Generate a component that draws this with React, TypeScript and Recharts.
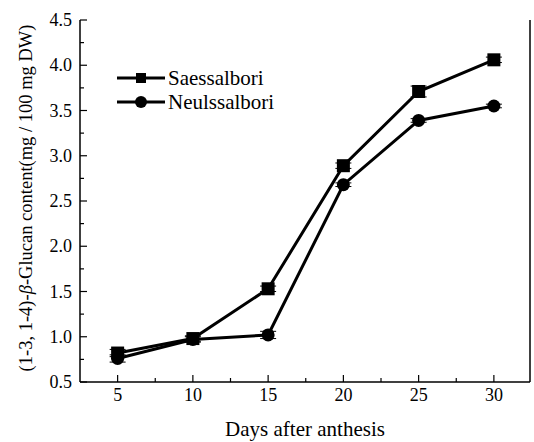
import { ErrorBar, Line, LineChart, XAxis, YAxis } from "recharts";

const days = [5, 10, 15, 20, 25, 30];
const saessalbori = [0.82, 0.98, 1.53, 2.89, 3.71, 4.06];
const neulssalbori = [0.76, 0.97, 1.02, 2.68, 3.39, 3.55];
const saessErr = [0.04, 0.03, 0.03, 0.03, 0.06, 0.03];
const neulsErr = [0.04, 0.03, 0.04, 0.02, 0.02, 0.02];

const xTicks = [5, 7.5, 10, 12.5, 15, 17.5, 20, 22.5, 25, 27.5, 30];
const yTicks = [0.5, 0.75, 1, 1.25, 1.5, 1.75, 2, 2.25, 2.5, 2.75, 3, 3.25, 3.5, 3.75, 4, 4.25, 4.5];
const seriesNames = ["Saessalbori", "Neulssalbori"];

const data = days.map((d, i) => ({
  day: d,
  saess: saessalbori[i],
  neuls: neulssalbori[i],
  saessErr: saessErr[i],
  neulsErr: neulsErr[i],
}));

const FONT = "'Liberation Serif', 'Times New Roman', serif";
const X_MARGIN = 5;
const Y_MARGIN = 8;

const XTick = (props: any) => {
  const { x, y, payload } = props;
  const v = payload.value as number;
  const major = v % 5 === 0;
  const axisY = y - X_MARGIN;
  return (
    <g>
      <line x1={x} x2={x} y1={axisY} y2={axisY - (major ? 7 : 4)} stroke="#000" strokeWidth={1.2} />
      {major && (
        <text x={x} y={y} dy={14} textAnchor="middle" fill="#000" fontSize={18} fontFamily={FONT}>
          {v}
        </text>
      )}
    </g>
  );
};

const YTick = (props: any) => {
  const { x, y, payload } = props;
  const v = payload.value as number;
  const major = Math.abs(v * 2 - Math.round(v * 2)) < 1e-6;
  const axisX = x + Y_MARGIN;
  return (
    <g>
      <line x1={axisX} x2={axisX + (major ? 7 : 4)} y1={y} y2={y} stroke="#000" strokeWidth={1.2} />
      {major && (
        <text x={x} y={y} dy={6} textAnchor="end" fill="#000" fontSize={18} fontFamily={FONT}>
          {v.toFixed(1)}
        </text>
      )}
    </g>
  );
};

const Square = (props: any) => {
  const { cx, cy, index } = props;
  if (cx == null || cy == null) return <g key={`s-${index}`} />;
  return <rect key={`s-${index}`} x={cx - 6.5} y={cy - 6.5} width={13} height={13} fill="#000" />;
};

const Circle = (props: any) => {
  const { cx, cy, index } = props;
  if (cx == null || cy == null) return <g key={`c-${index}`} />;
  return <circle key={`c-${index}`} cx={cx} cy={cy} r={6.5} fill="#000" />;
};

const ChartLegend = () => (
  <div
    style={{
      position: "absolute",
      left: 117,
      top: 66,
      fontFamily: FONT,
      fontSize: 21,
      color: "#000",
      lineHeight: "24px",
    }}
  >
    {seriesNames.map((name, i) => (
      <div key={name} style={{ display: "flex", alignItems: "center" }}>
        <svg width={48} height={24} style={{ marginRight: 3 }}>
          <line x1={0} x2={48} y1={12} y2={12} stroke="#000" strokeWidth={3} />
          {i === 0 ? <rect x={19} y={7} width={10} height={10} fill="#000" /> : <circle cx={24} cy={12} r={6} fill="#000" />}
        </svg>
        <span>{name}</span>
      </div>
    ))}
  </div>
);

const YLabel = (props: any) => {
  const { viewBox } = props;
  const cx = 26;
  const cy = viewBox.y + viewBox.height / 2 - 3;
  return (
    <text
      x={cx}
      y={cy}
      transform={`rotate(-90 ${cx} ${cy})`}
      textAnchor="middle"
      dominantBaseline="central"
      fontSize={18.5}
      fontFamily={FONT}
      fill="#000"
    >
      (1-3, 1-4)-<tspan fontStyle="italic">β</tspan>-Glucan content(mg / 100 mg DW)
    </text>
  );
};

export default function App() {
  return (
    <div style={{ position: "absolute", left: 0, top: 0, width: 534, height: 442, background: "#fff" }}>
      <LineChart width={534} height={442} data={data} margin={{ top: 20, right: 3, bottom: 0, left: 0 }}>
        <XAxis
          dataKey="day"
          type="number"
          domain={[2.5, 32.4]}
          ticks={xTicks}
          interval={0}
          tick={<XTick />}
          tickLine={false}
          tickSize={0}
          tickMargin={X_MARGIN}
          axisLine={{ stroke: "#000", strokeWidth: 1.5 }}
          height={60}
          label={{
            value: "Days after anthesis",
            position: "insideBottom",
            offset: 6,
            fill: "#000",
            fontSize: 21,
            fontFamily: FONT,
          }}
        />
        <XAxis
          xAxisId="top"
          orientation="top"
          dataKey="day"
          type="number"
          domain={[2.5, 32.4]}
          tick={false}
          tickLine={false}
          height={0}
          axisLine={{ stroke: "#000", strokeWidth: 1.5 }}
        />
        <YAxis
          type="number"
          domain={[0.5, 4.5]}
          ticks={yTicks}
          interval={0}
          tick={<YTick />}
          tickLine={false}
          tickSize={0}
          tickMargin={Y_MARGIN}
          axisLine={{ stroke: "#000", strokeWidth: 1.5 }}
          width={80}
          label={<YLabel />}
        />
        <YAxis
          yAxisId="right"
          orientation="right"
          type="number"
          domain={[0.5, 4.5]}
          tick={false}
          tickLine={false}
          width={1}
          axisLine={{ stroke: "#000", strokeWidth: 1.5 }}
        />
        <Line
          dataKey="saess"
          name={seriesNames[0]}
          stroke="#000"
          strokeWidth={3}
          dot={<Square />}
          activeDot={false}
          isAnimationActive={false}
        >
          <ErrorBar dataKey="saessErr" width={8} stroke="#000" strokeWidth={1} direction="y" />
        </Line>
        <Line
          dataKey="neuls"
          name={seriesNames[1]}
          stroke="#000"
          strokeWidth={3}
          dot={<Circle />}
          activeDot={false}
          isAnimationActive={false}
        >
          <ErrorBar dataKey="neulsErr" width={8} stroke="#000" strokeWidth={1} direction="y" />
        </Line>
      </LineChart>
      <ChartLegend />
    </div>
  );
}
